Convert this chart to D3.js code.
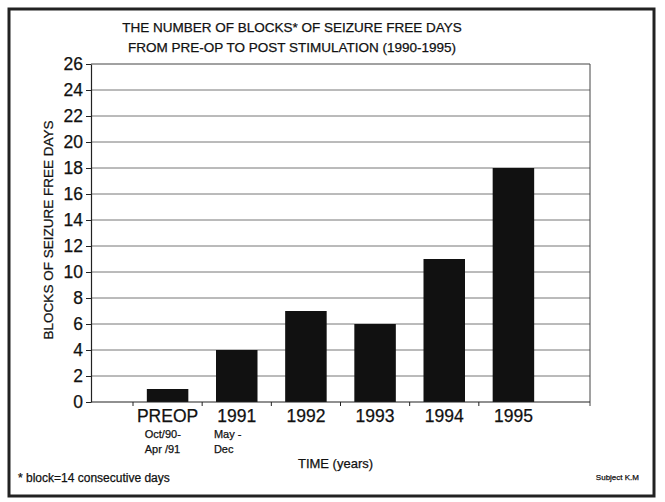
<!DOCTYPE html>
<html>
<head>
<meta charset="utf-8">
<script src="https://d3js.org/d3.v7.min.js"></script>
<style>
  body { margin: 0; background: #fff; }
  svg text { font-family: "Liberation Sans", Arial, sans-serif; fill: #111; stroke: #111; stroke-width: 0.25px; }
</style>
</head>
<body>
<svg></svg>
<script>
var categories = ["PREOP", "1991", "1992", "1993", "1994", "1995"];
var subLabels = [["Oct/90-", "Apr /91"], ["May -", "Dec"], [], [], [], []];
var blocks = [1, 4, 7, 6, 11, 18];
var yTicks = [0, 2, 4, 6, 8, 10, 12, 14, 16, 18, 20, 22, 24, 26];
var titleLines = ["THE NUMBER OF BLOCKS* OF SEIZURE FREE DAYS",
                  "FROM PRE-OP TO POST STIMULATION (1990-1995)"];

var W = 665, H = 502;
var margin = { top: 64, right: 75, bottom: 100, left: 91 },
    width = W - margin.left - margin.right,
    height = H - margin.top - margin.bottom;

var root = d3.select("svg")
    .attr("width", W)
    .attr("height", H);

// outer frame
root.append("rect")
    .attr("x", 9).attr("y", 9)
    .attr("width", 645).attr("height", 487)
    .attr("fill", "none")
    .attr("stroke", "#222")
    .attr("stroke-width", 3);

// titles
root.selectAll(".title")
    .data(titleLines)
    .enter().append("text")
    .attr("class", "title")
    .attr("x", 292)
    .attr("y", function(d, i) { return 32 + i * 20; })
    .attr("text-anchor", "middle")
    .style("font-size", "13.5px")
    .text(function(d) { return d; });

var svg = root.append("g")
    .attr("transform", "translate(" + margin.left + "," + margin.top + ")");

var y = d3.scaleLinear()
    .domain([0, 26])
    .range([height, 0]);

// category slots; bars sit in the middle 60% of each
var x = d3.scaleBand()
    .domain(categories)
    .range([42, 457])
    .padding(0);
var bw = x.bandwidth();

// grid
svg.selectAll(".grid")
    .data(yTicks.filter(function(d) { return d > 0; }))
    .enter().append("line")
    .attr("class", "grid")
    .attr("x1", 0).attr("x2", width)
    .attr("y1", function(d) { return y(d); })
    .attr("y2", function(d) { return y(d); })
    .attr("stroke", function(d) { return d === 26 ? "#444" : "#777"; })
    .attr("stroke-width", 1);

// right border
svg.append("line")
    .attr("x1", width).attr("x2", width)
    .attr("y1", y(26)).attr("y2", height + 4)
    .attr("stroke", "#444");

// bars
svg.selectAll(".bar")
    .data(blocks)
    .enter().append("rect")
    .attr("class", "bar")
    .attr("x", function(d, i) { return x(categories[i]) + bw * 0.2; })
    .attr("width", bw * 0.6)
    .attr("y", function(d) { return y(d); })
    .attr("height", function(d) { return height - y(d); })
    .attr("fill", "#111");

// y axis
var yAxis = svg.append("g")
    .attr("class", "axis axis--y")
    .call(d3.axisLeft(y).tickValues(yTicks).tickSize(5).tickSizeOuter(0).tickPadding(3));
yAxis.select(".domain").attr("stroke", "#222").attr("stroke-width", 1.2);
yAxis.selectAll("line").attr("stroke", "#222");
yAxis.selectAll("text")
    .style("font-size", "17.5px")
    .style("font-family", "Liberation Sans, Arial, sans-serif")
    .attr("fill", "#111");

// x axis baseline + slot ticks
svg.append("line")
    .attr("x1", 0).attr("x2", width)
    .attr("y1", height).attr("y2", height)
    .attr("stroke", "#222").attr("stroke-width", 1.2);

var bounds = categories.map(function(c) { return x(c); });
svg.selectAll(".xtick")
    .data(bounds)
    .enter().append("line")
    .attr("class", "xtick")
    .attr("x1", function(d) { return d; })
    .attr("x2", function(d) { return d; })
    .attr("y1", height).attr("y2", height + 4)
    .attr("stroke", "#222");

// category labels
svg.selectAll(".cat")
    .data(categories)
    .enter().append("text")
    .attr("class", "cat")
    .attr("x", function(d) { return x(d) + bw / 2; })
    .attr("y", height + 20)
    .attr("text-anchor", "middle")
    .style("font-size", "17.5px")
    .text(function(d) { return d; });

subLabels.forEach(function(lines, i) {
  lines.forEach(function(t, j) {
    svg.append("text")
      .attr("x", x(categories[i]) + bw * 0.17)
      .attr("y", height + 36 + j * 15)
      .style("font-size", "11px")
      .text(t);
  });
});

// axis titles
svg.append("text")
    .attr("x", x("1993") - 5)
    .attr("y", height + 66)
    .attr("text-anchor", "middle")
    .style("font-size", "13px")
    .text("TIME (years)");

svg.append("text")
    .attr("transform", "translate(-38," + (height / 2 - 3) + ") rotate(-90)")
    .attr("text-anchor", "middle")
    .style("font-size", "13.5px")
    .text("BLOCKS OF SEIZURE FREE DAYS");

// footnotes
root.append("text")
    .attr("x", 18).attr("y", 482)
    .style("font-size", "12px")
    .text("* block=14 consecutive days");

root.append("text")
    .attr("x", 639).attr("y", 480)
    .attr("text-anchor", "end")
    .style("font-size", "8px")
    .text("Subject K.M");
</script>
</body>
</html>
